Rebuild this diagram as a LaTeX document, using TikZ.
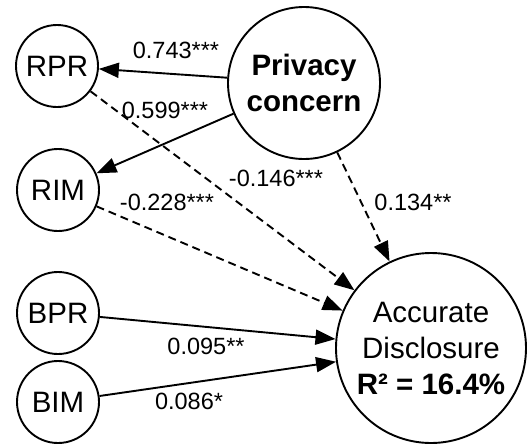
\documentclass[tikz,border=0pt]{standalone}
\usepackage{fontspec}
\setmainfont{Liberation Sans}
\usetikzlibrary{arrows.meta}

\begin{document}
\begin{tikzpicture}[x=1pt,y=-1pt,
  var/.style={circle,draw,line width=1.9pt,inner sep=0pt,minimum size=82pt,font=\fontsize{29.5}{36}\selectfont},
  big/.style={var,align=center},
  coef/.style={font=\fontsize{23.5}{28}\selectfont,inner sep=0pt},
  ar/.style={-{Triangle[length=20pt,width=15pt]},line width=1.9pt},
  ns/.style={ar,dash pattern=on 8pt off 5pt}]
 \useasboundingbox (0,0) rectangle (529,445);
 \node[var] (rpr) at (57,66) {RPR};
 \node[var] (rim) at (58,190) {RIM};
 \node[var] (bpr) at (58,313) {BPR};
 \node[var] (bim) at (58,402) {BIM};
 \node[big,minimum size=152pt,font=\fontsize{29.5}{36}\selectfont\bfseries] (pc) at (304,83) {Privacy\\concern};
 \node[big,minimum size=190pt] (ad) at (431,348) {Accurate\\Disclosure\\\textbf{R² = 16.4\%}};
 % paths from privacy concern
 \draw[ar] (pc) -- (rpr);
 \draw[ar] (pc) -- (rim);
 \draw[ns] (pc) -- (ad);
 % paths to disclosure
 \draw[ns] (rpr) -- (ad);
 \draw[ns] (rim) -- (ad);
 \draw[ar] (bpr) -- (ad);
 \draw[ar] (bim) -- (ad);
 % coefficients
 \node[coef] (c1) at (176,50) {0.743***};
 \node[coef] (c2) at (165,110) {0.599***};
 \node[coef] (c3) at (276,178) {-0.146***};
 \node[coef] (c4) at (167,202) {-0.228***};
 \node[coef] (c5) at (413,202) {0.134**};
 \node[coef] (c6) at (206,346) {0.095**};
 \node[coef] (c7) at (189,401) {0.086*};
\end{tikzpicture}
\end{document}
